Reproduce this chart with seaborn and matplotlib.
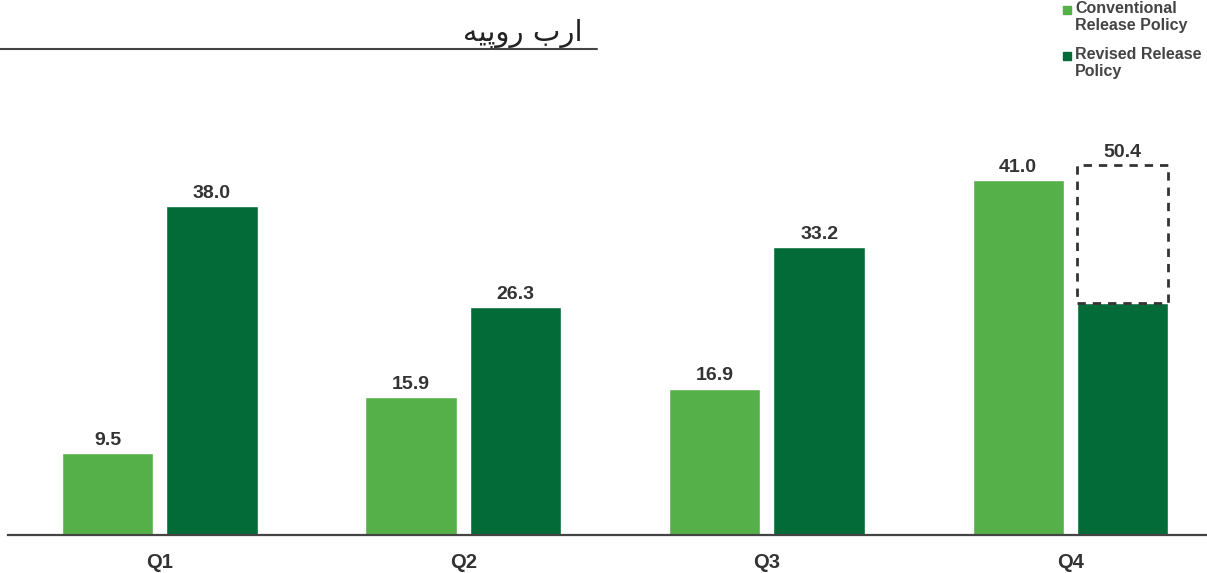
import matplotlib.pyplot as plt
import matplotlib.patches as mpatches
import pandas as pd
import seaborn as sns

# Data
quarters = ['Q1', 'Q2', 'Q3', 'Q4']
conventional = [9.5, 15.9, 16.9, 41.0]
revised = [38.0, 26.3, 33.2, 26.8]
revised_labels = ['38.0', '26.3', '33.2', '50.4']
conventional_labels = ['9.5', '15.9', '16.9', '41.0']
q4_box_top = 42.7  # dashed outline top (not to scale with its label)
series_names = ['Conventional\nRelease Policy', 'Revised Release\nPolicy']

# Urdu unit title "ارب روپیه", shaped forms in visual (left-to-right) order
unit_title = '\uFEEA\uFBFF\uFB58\uFEED\uFEAD \uFE8F\uFEAD\uFE8D'

light = '#56B04A'
dark = '#036B38'
text_col = '#333333'

df = pd.DataFrame({
    'quarter': quarters * 2,
    'value': conventional + revised,
    'series': [series_names[0]] * 4 + [series_names[1]] * 4,
})

sns.set_style('white')
plt.rcParams['font.family'] = ['Liberation Sans', 'DejaVu Sans']

fig = plt.figure(figsize=(12.07, 5.73), dpi=100)
ax = fig.add_axes([8 / 1207, 38 / 573, 1 - 8 / 1207, 433 / 573])

sns.barplot(data=df, x='quarter', y='value', hue='series', order=quarters,
            hue_order=series_names, palette=[light, dark], width=0.688, gap=0.125,
            saturation=1, legend=False, ax=ax)

ax.set_xlim(-0.5, 3.45)
ax.set_ylim(0, 50)
ax.set_xlabel('')
ax.set_ylabel('')
ax.set_yticks([])
for s in ['top', 'left', 'right']:
    ax.spines[s].set_visible(False)
ax.spines['bottom'].set_color('#444444')
ax.spines['bottom'].set_linewidth(1.6)
ax.tick_params(axis='x', length=0, pad=13)
for t in ax.get_xticklabels():
    t.set_fontsize(14.5)
    t.set_fontweight('bold')
    t.set_color(text_col)

bars = [p for p in ax.patches if isinstance(p, mpatches.Rectangle)]
light_bars = bars[:4]
dark_bars = bars[4:8]

for b, lab in zip(light_bars, conventional_labels):
    ax.annotate(lab, (b.get_x() + b.get_width() / 2, b.get_height()),
                xytext=(0, 3), textcoords='offset points', ha='center', va='bottom',
                fontsize=14, fontweight='bold', color=text_col)

for i, (b, lab) in enumerate(zip(dark_bars, revised_labels)):
    top = b.get_height()
    if i == 3:
        ax.add_patch(mpatches.Rectangle((b.get_x(), top), b.get_width(), q4_box_top - top,
                                        fill=False, edgecolor='#333333', linewidth=2,
                                        linestyle=(0, (3, 2.5)), zorder=3))
        top = q4_box_top
    ax.annotate(lab, (b.get_x() + b.get_width() / 2, top),
                xytext=(0, 3), textcoords='offset points', ha='center', va='bottom',
                fontsize=14, fontweight='bold', color=text_col)

# Urdu unit title with underline
fig.text(583 / 1207, 1 - 33 / 573, unit_title, ha='right', va='center',
         fontsize=21, color='#222222', family=['DejaVu Sans'])
fig.add_artist(plt.Line2D([0, 597 / 1207], [1 - 49 / 573, 1 - 49 / 573],
                          color='#444444', linewidth=1.5))

# Legend drawn at top right
for k, (name, col) in enumerate(zip(series_names, [light, dark])):
    y = 1 - (10 + 46 * k) / 573
    fig.patches.append(mpatches.Rectangle((1063 / 1207, y - 4 / 573), 8 / 1207, 8 / 573,
                                          transform=fig.transFigure, color=col))
    fig.text(1075 / 1207, y + 9 / 573, name, ha='left', va='top', fontsize=11.5,
             fontweight='bold', color='#444444', linespacing=1.15)

fig.savefig('out.png', dpi=100)
